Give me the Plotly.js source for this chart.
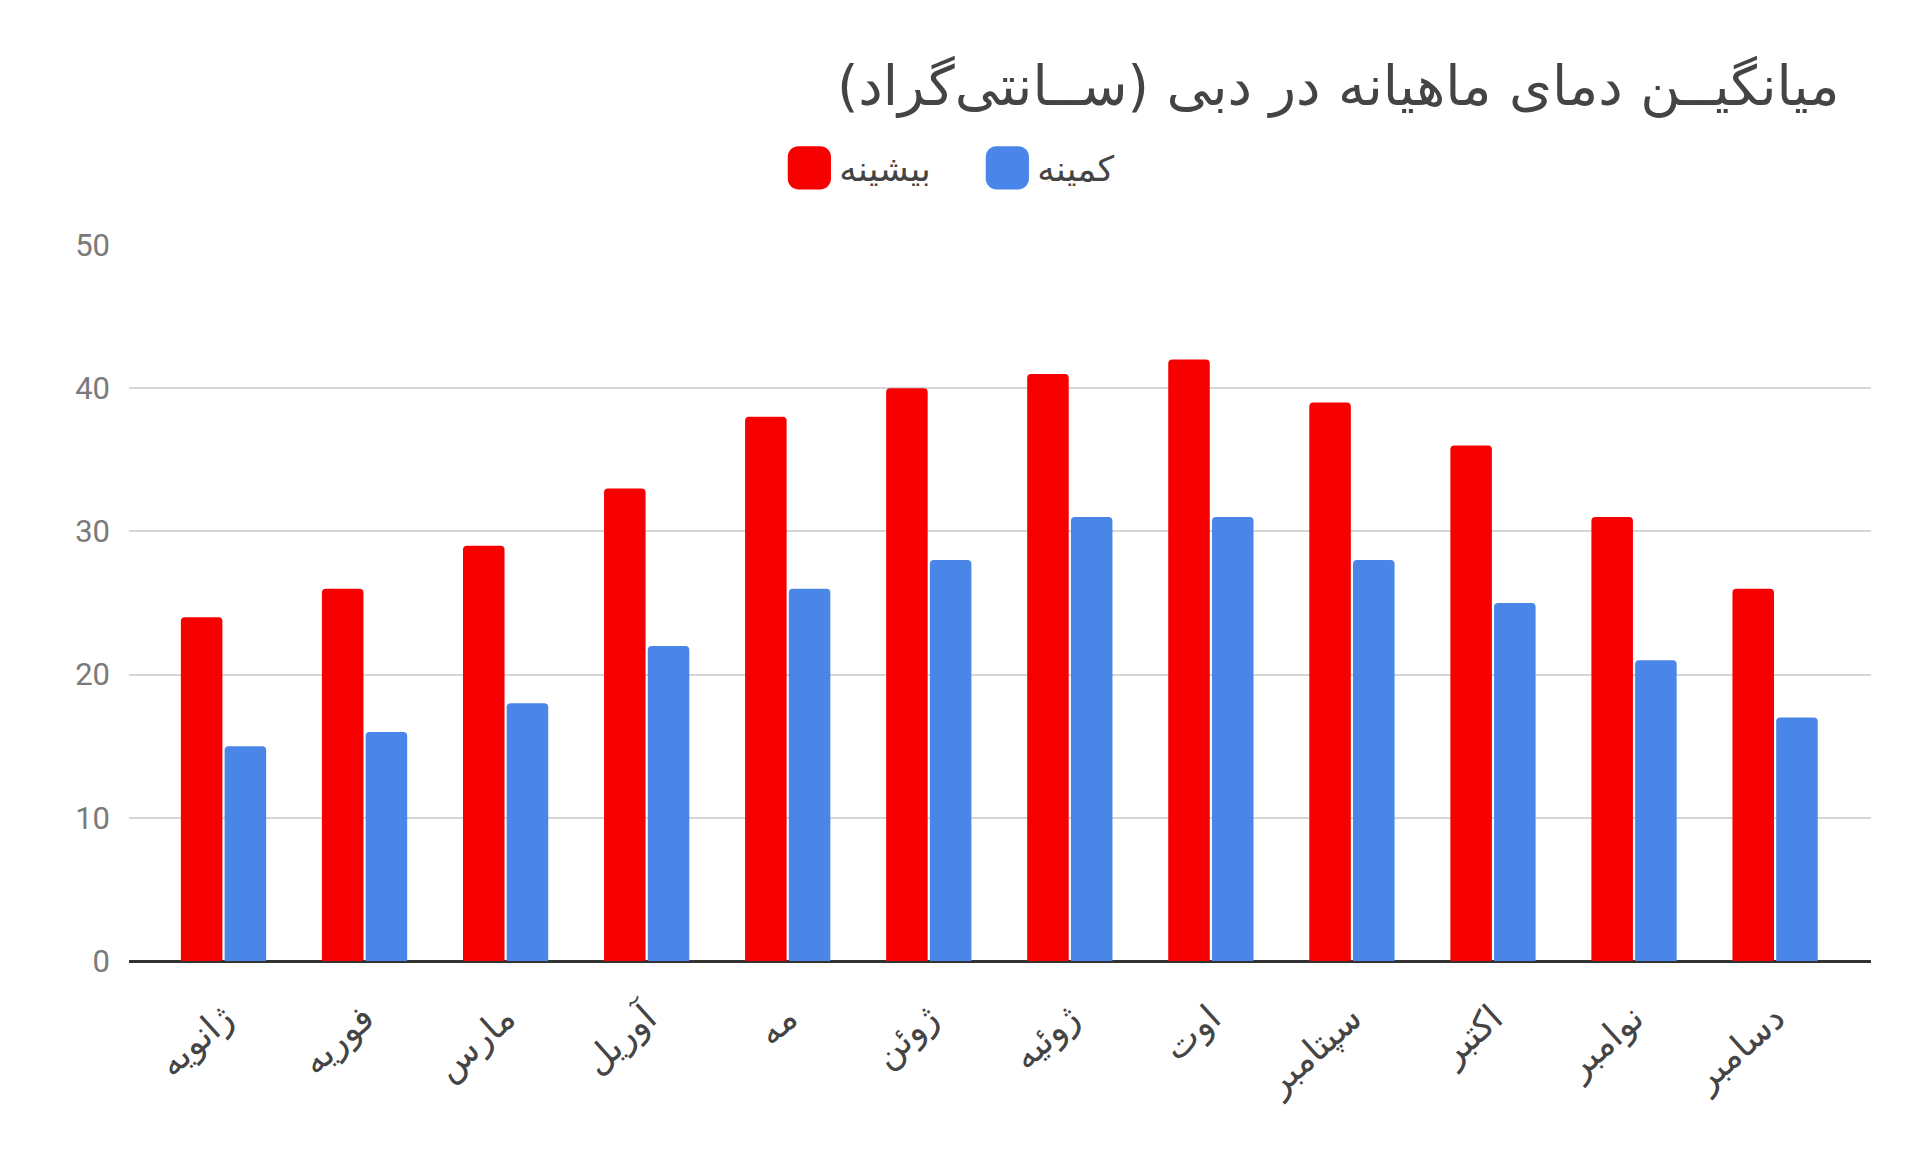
<!DOCTYPE html>
<html>
<head>
<meta charset="utf-8">
<script src="https://cdn.plot.ly/plotly-3.0.1.min.js"></script>
<style>html,body{margin:0;padding:0;background:#fff;}#chart{width:1920px;height:1162px;}</style>
</head>
<body>
<div id="chart"></div>
<script>
const months = ["ژانویه","فوریه","مارس","آوریل","مه","ژوئن","ژوئیه","اوت","سپتامبر","اکتبر","نوامبر","دسامبر"];
const maxTemps = [24,26,29,33,38,40,41,42,39,36,31,26];
const minTemps = [15,16,18,22,26,28,31,31,28,25,21,17];
const seriesNames = ["بیشینه","کمینه"];
const titleText = "میانگیــن دمای ماهیانه در دبی (ســانتی‌گراد)";
const yTicks = [0,10,20,30,40,50];

const FONT = "Roboto, 'DejaVu Sans', sans-serif";
const AFONT = "'DejaVu Sans', sans-serif";

const traces = [
  {type:'bar', x: months, y: maxTemps, name: seriesNames[0],
   marker:{color:'#f70000', cornerradius:4}, hoverinfo:'y'},
  {type:'bar', x: months, y: minTemps, name: seriesNames[1],
   marker:{color:'#4a86e8', cornerradius:4}, hoverinfo:'y'}
];

const layout = {
  width:1920, height:1162,
  paper_bgcolor:'#ffffff', plot_bgcolor:'#ffffff',
  margin:{l:129, r:49, t:245, b:201},
  barmode:'group', bargap:0.38, bargroupgap:0.05,
  font:{family:FONT, color:'#444'},
  title:{text:titleText, xref:'container', yref:'container', x:0.958, xanchor:'right', y:0.926, yanchor:'middle',
         font:{family:AFONT, size:55, color:'#444'}},
  showlegend:true,
  legend:{orientation:'h', x:0.487, xanchor:'center', y:1.1075, yanchor:'middle',
          font:{family:AFONT, size:35, color:'#444'}, itemwidth:50, entrywidth:133, traceorder:'normal'},
  xaxis:{type:'category', range:[-0.67, 11.68], tickangle:-42, showgrid:false, showline:false, zeroline:false,
         ticks:'', ticklen:0, ticklabelstandoff:28, tickfont:{family:AFONT, size:36, color:'#444'}, automargin:false},
  yaxis:{range:[0,50], tickvals:yTicks, showgrid:true, gridcolor:'#d6d6d6', gridwidth:2,
         zeroline:true, zerolinecolor:'#333', zerolinewidth:3, showline:false, ticks:'',
         tickfont:{family:FONT, size:31, color:'#7a7a7a'}, ticklabelstandoff:18, automargin:false}
};

Plotly.newPlot('chart', traces, layout, {displayModeBar:false, staticPlot:true}).then(function(gd){
  // enlarge legend swatches to match the reference's big squares
  document.querySelectorAll('.legend .legendpoints path').forEach(function(p){
    var t = p.getAttribute('transform') || '';
    p.setAttribute('transform', t + ' scale(3.6)');
  });
});
</script>
</body>
</html>
